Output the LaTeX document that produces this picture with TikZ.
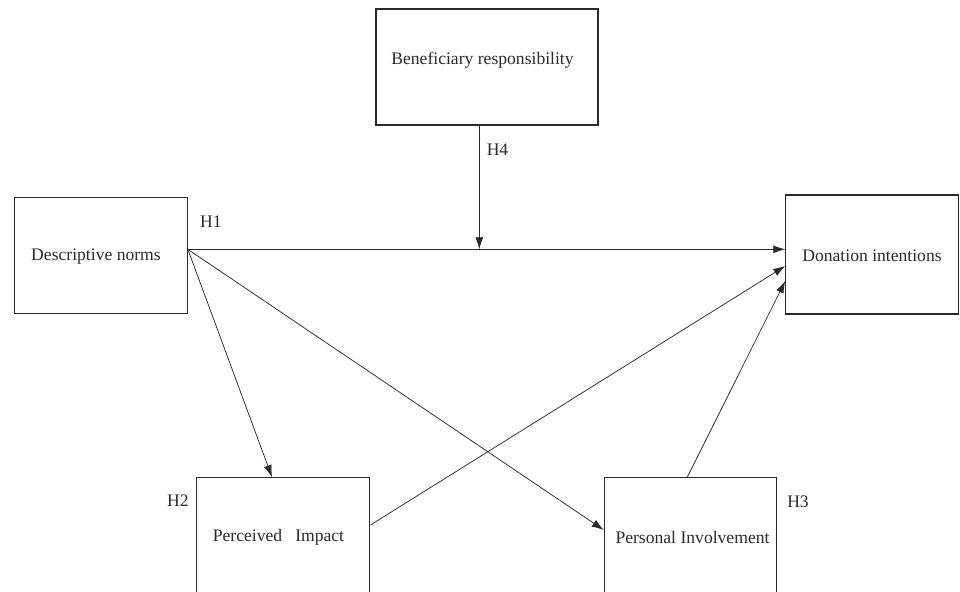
\documentclass[tikz,border=0pt]{standalone}
\usepackage{fontspec}
\setmainfont{Liberation Serif}
\usetikzlibrary{arrows.meta}
\definecolor{ink}{HTML}{2A2A2A}
\tikzset{
  boxnode/.style={draw=ink, line width=1.05pt, rectangle, inner sep=0pt},
  txt/.style={text=ink, font=\fontsize{17.6}{21}\selectfont, inner sep=0pt},
  arr/.style={draw=ink, line width=0.75pt, -{Latex[length=12pt,width=8pt]}},
  plain/.style={draw=ink, line width=0.75pt}
}
\begin{document}
\begin{tikzpicture}[x=1pt,y=-1pt]
\useasboundingbox (0,0) rectangle (960,591);
% boxes
\node[boxnode, minimum width=222pt, minimum height=116pt] (ben) at (487,67) {};
\node[boxnode, minimum width=173pt, minimum height=116pt] (dn) at (100.8,255.3) {};
\node[boxnode, minimum width=173pt, minimum height=119pt] (di) at (872.3,254.5) {};
\node[boxnode, minimum width=173.3pt, minimum height=119.3pt] (pi) at (283.3,537.3) {};
\node[boxnode, minimum width=172.4pt, minimum height=119.3pt] (pv) at (690.5,537.3) {};
% texts
\node[txt] (bentxt) at (482.5,60) {Beneficiary responsibility};
\node[txt] (dntxt) at (96,257) {Descriptive norms};
\node[txt] (ditxt) at (872,256) {Donation intentions};
\node[txt] (pitxt) at (278.5,537) {Perceived\hspace{13pt}Impact};
\node[txt] (pvtxt) at (692.5,537) {Personal Involvement};
% hypothesis labels
\node[txt] (h1) at (211,222) {H1};
\node[txt] (h2) at (178,501) {H2};
\node[txt] (h3) at (798,502) {H3};
\node[txt] (h4) at (497.5,150) {H4};
% connectors
\coordinate (h4end) at (479.3,249.3);
\draw[arr] ([yshift=6pt]dn.east) -- ([yshift=5.2pt]di.west);
\draw[arr] ([yshift=6pt]dn.east) -- ([xshift=-11.3pt]pi.north);
\draw[arr] ([yshift=6pt]dn.east) -- ([yshift=7.3pt]pv.west);
\draw[arr] ([yshift=12.3pt]pi.east) -- ([yshift=-11.5pt]di.west);
\draw[arr] ([xshift=-3.2pt]pv.north) -- ([yshift=-26.5pt]di.west);
\draw[arr] ([xshift=-7.7pt]ben.south) -- (h4end);
\end{tikzpicture}
\end{document}
